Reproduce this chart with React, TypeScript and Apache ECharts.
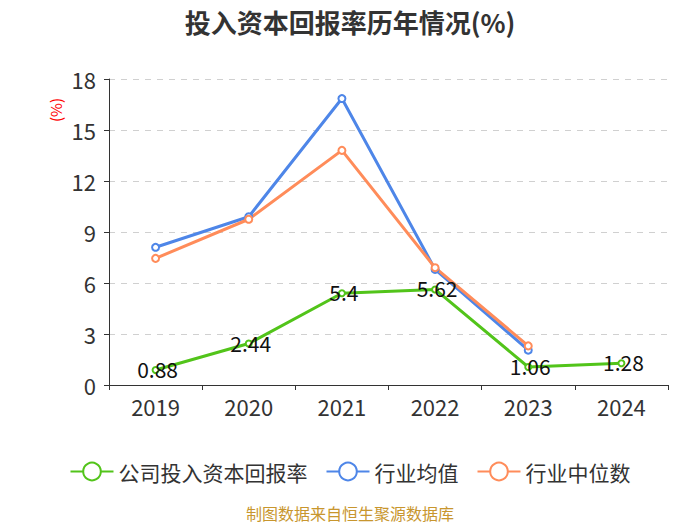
import React, { useEffect, useRef } from "react";
import * as echarts from "echarts";

const years = ["2019", "2020", "2021", "2022", "2023", "2024"];
const companyRoic = [0.88, 2.44, 5.4, 5.62, 1.06, 1.28];
const industryAvg = [8.1, 9.9, 16.85, 6.8, 2.05, null];
const industryMedian = [7.45, 9.75, 13.8, 6.9, 2.3, null];

export default function App() {
  const ref = useRef<HTMLDivElement>(null);
  useEffect(() => {
    const chart = echarts.init(ref.current!, null, { renderer: "svg" });
    const font = "'Microsoft YaHei','Noto Sans CJK SC','Noto Sans',sans-serif";
    chart.setOption({
      animation: false,
      textStyle: { fontFamily: font },
      title: {
        text: "投入资本回报率历年情况(%)",
        left: "center",
        top: 3,
        textStyle: { fontSize: 26, fontWeight: "bold", color: "#333", fontFamily: font },
      },
      graphic: [
        {
          type: "text",
          x: 350,
          y: 513,
          style: {
            text: "制图数据来自恒生聚源数据库",
            fill: "#c8962e",
            fontSize: 16,
            fontFamily: font,
            align: "center",
            verticalAlign: "middle",
          },
        },
        {
          type: "text",
          x: 55,
          y: 110,
          rotation: Math.PI / 2,
          style: {
            text: "(%)",
            fill: "#ff0000",
            fontSize: 15,
            fontFamily: font,
            align: "center",
            verticalAlign: "middle",
          },
        },
      ],
      legend: {
        top: 456,
        left: "center",
        itemWidth: 43,
        itemHeight: 22,
        itemGap: 18,
        itemTextGap: 10,
        textStyle: { fontSize: 21, color: "#333", fontFamily: font },
        data: ["公司投入资本回报率", "行业均值", "行业中位数"],
      },
      grid: { left: 109, right: 32, top: 79, bottom: 140 },
      xAxis: {
        type: "category",
        data: years,
        boundaryGap: true,
        axisLine: { lineStyle: { color: "#333" } },
        axisTick: { show: true, alignWithLabel: false, length: 5, lineStyle: { color: "#333" } },
        axisLabel: { fontSize: 22, color: "#333", margin: 10 },
      },
      yAxis: {
        type: "value",
        min: 0,
        max: 18,
        interval: 3,
        axisLine: { show: true, lineStyle: { color: "#333" } },
        axisTick: { show: true, length: 5, lineStyle: { color: "#333" } },
        axisLabel: { fontSize: 22, color: "#333", margin: 13 },
        splitLine: { lineStyle: { type: [6, 6], color: "#d0d0d0" } },
      },
      series: [
        {
          name: "公司投入资本回报率",
          type: "line",
          data: companyRoic,
          color: "#52c41a",
          symbol: "emptyCircle",
          symbolSize: 6,
          lineStyle: { width: 3 },
          label: { show: true, position: "inside", fontSize: 21, color: "#111", offset: [2, -1] },
          z: 3,
        },
        {
          name: "行业均值",
          type: "line",
          data: industryAvg,
          color: "#4e86e8",
          symbol: "emptyCircle",
          symbolSize: 7,
          lineStyle: { width: 3 },
          z: 2,
        },
        {
          name: "行业中位数",
          type: "line",
          data: industryMedian,
          color: "#ff8c5a",
          symbol: "emptyCircle",
          symbolSize: 7,
          lineStyle: { width: 3 },
          z: 2,
        },
      ],
    });
    return () => chart.dispose();
  }, []);
  return <div ref={ref} style={{ width: 700, height: 525, position: "absolute", left: 0, top: 0 }} />;
}
